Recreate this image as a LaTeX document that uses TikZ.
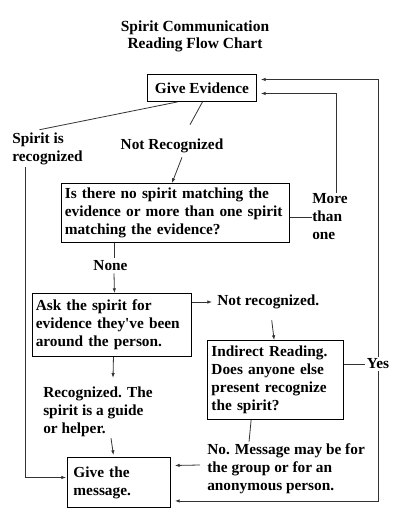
\documentclass[tikz,border=0pt]{standalone}
\usepackage{fontspec}
\setmainfont{Liberation Serif}
\usetikzlibrary{arrows.meta,calc}

\begin{document}
\begin{tikzpicture}[x=0.75pt,y=-0.75pt]
\tikzstyle{every node}+=[inner sep=0pt, font=\fontsize{11.5}{13.5}\selectfont\bfseries]
\tikzstyle{flowbox}=[draw, line width=0.7pt, anchor=north west, align=left, inner xsep=2.5pt, inner ysep=0pt]
\tikzstyle{link}=[line width=0.6pt, black!80]
\tikzstyle{linkarrow}=[link, -{Latex[length=3.5pt,width=2.6pt]}]
\useasboundingbox (0,0) rectangle (400,517);
\draw (195,36) node [align=center, font=\fontsize{11.6}{12.8}\selectfont\bfseries] (title) {Spirit Communication\\Reading Flow Chart};
\draw (147,74) node [flowbox, align=center, minimum width=81.75pt, minimum height=20.25pt] (give) {Give Evidence};
\draw (61,183) node [flowbox, text width=166pt, minimum height=44.25pt] (match) {Is there no spirit matching the\\evidence or more than one spirit\\matching the evidence?};
\draw (32,293) node [flowbox, text width=114.25pt, minimum height=47.25pt] (ask) {Ask the spirit for\\evidence they\textquotesingle ve been\\around the person.};
\draw (207,340) node [flowbox, text width=96.25pt, minimum height=59.25pt, inner xsep=3pt] (indirect) {Indirect Reading.\\Does anyone else\\present recognize\\the spirit?};
\draw (67,457) node [flowbox, text width=68.25pt, minimum height=37.5pt, inner xsep=4.5pt] (message) {Give the\\message.};
\draw (12,149) node [anchor=west, align=left] (recog) {Spirit is\\recognized};
\draw (172,146) node (notrec) {Not Recognized};
\draw (312,217) node [anchor=west, align=left] (more) {More\\than\\one};
\draw (110.5,266) node (none) {None};
\draw (217,302) node [anchor=west] (notrec2) {Not recognized.};
\draw (43,412) node [anchor=west, align=left] (guide) {Recognized. The\\spirit is a guide\\or helper.};
\draw (207,469) node [anchor=west, align=left] (nomsg) {No. Message may be for\\the group or for an\\anonymous person.};
\draw (378,364) node [fill=white, inner sep=1pt] (yes) {Yes};
\draw [link] ($(give.south)+(-24.5,0)$) -- ($(recog.north)+(-8,-3)$);
\draw [link] ($(give.south)+(0.5,0)$) -- ($(notrec.north)+(18,-14)$);
\draw [linkarrow] ($(notrec.south)+(10,4)$) -- (match.north -| 172,0);
\draw [link] (more.west -| match.east) -- (more.west);
\draw [linkarrow] ($(more.north)+(6,-1)$) |- ($(give.east)+(4,5.5)$);
\draw [linkarrow] (yes.north) |- ($(give.east)+(4,-8.5)$);
\draw [linkarrow] (yes.south) |- ($(message.south east)+(4,-7)$);
\draw [link] ($(match.south west)+(53,0)$) -- ($(none.north)+(3.5,-3)$);
\draw [linkarrow] ($(none.south)+(3.5,2)$) -- ($(ask.north)+(2.5,0)$);
\draw [linkarrow] ($(ask.north east)+(0,9)$) -- ($(notrec2.west)+(-5,0)$);
\draw [linkarrow] ($(notrec2.south)+(3.5,11)$) -- ($(indirect.north)+(-1.5,0)$);
\draw [link] (yes.west -| indirect.east) -- (yes.west);
\draw [linkarrow] ($(ask.south)+(1.5,0)$) -- ($(guide.north)+(15,-9)$);
\draw [linkarrow] ($(guide.south)+(13,1)$) -- ($(message.north)+(-5.5,-2)$);
\draw [link] ($(indirect.south)+(-24.5,0)$) -- ($(nomsg.north)+(-37,-2)$);
\draw [linkarrow] ($(nomsg.west)+(-7,-4)$) -- ($(message.east)+(4,-17)$);
\draw [linkarrow] ($(recog.south)+(-22,2)$) |- ($(message.west)+(-1,-5)$);
\end{tikzpicture}
\end{document}
